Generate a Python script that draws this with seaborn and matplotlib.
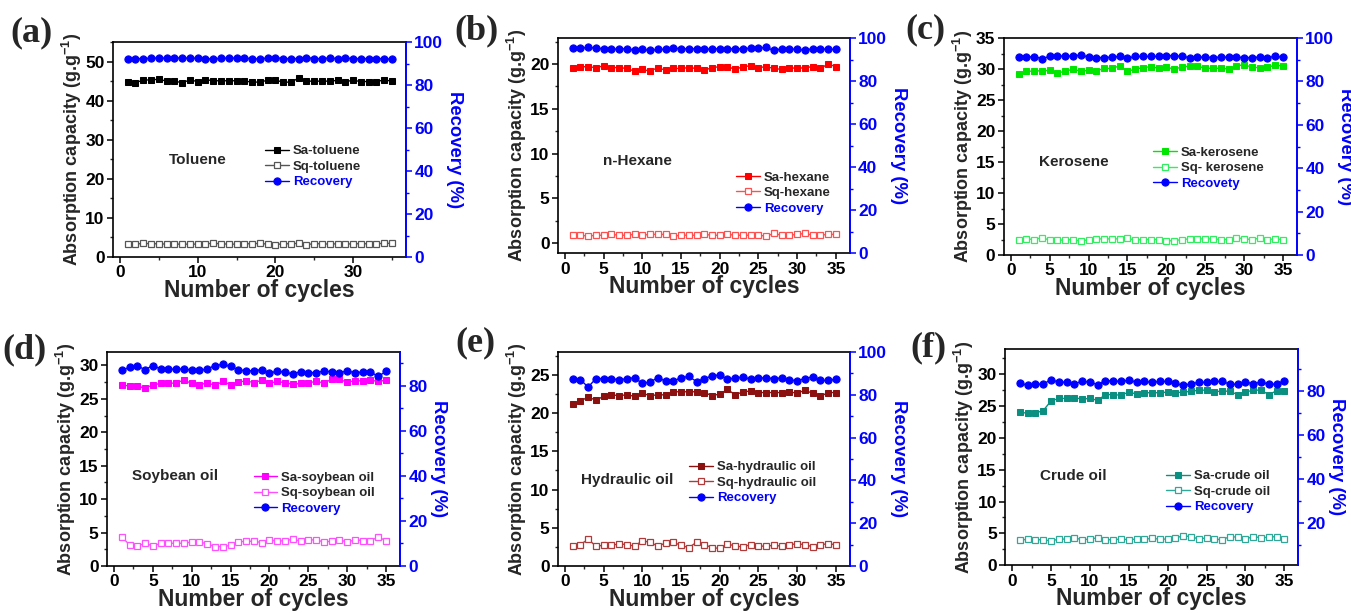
import numpy as np
import matplotlib
matplotlib.use("Agg")
import matplotlib.pyplot as plt
import seaborn as sns
from matplotlib.ticker import MultipleLocator

sns.set_theme(style="ticks")
plt.rcParams['font.family'] = ['Liberation Sans', 'DejaVu Sans']
plt.rcParams['font.weight'] = 'bold'
plt.rcParams['axes.labelweight'] = 'bold'
plt.rcParams['mathtext.default'] = 'regular'

# ------------------------------------------------------------
# DATA
# ------------------------------------------------------------
cycles = list(range(1, 36))

sa_toluene = [44.8, 44.6, 45.3, 45.3, 45.5, 45.0, 45.0, 44.6, 45.3, 44.9, 45.4, 45.1, 45.1, 45.1, 45.1, 45.1, 44.7, 44.8,
              45.2, 45.2, 44.8, 44.7, 45.8, 45.0, 45.0, 45.0, 45.0, 45.2, 44.9, 45.2, 44.9, 44.9, 44.9, 45.3, 45.0]
sq_toluene = [3.3, 3.3, 3.5, 3.4, 3.4, 3.3, 3.3, 3.3, 3.3, 3.3, 3.4, 3.5, 3.4, 3.3, 3.3, 3.4, 3.4, 3.5,
              3.3, 3.2, 3.4, 3.4, 3.5, 3.2, 3.4, 3.4, 3.3, 3.4, 3.3, 3.4, 3.4, 3.4, 3.4, 3.5, 3.5]
rec_toluene = [92.3, 92.3, 92.3, 92.5, 92.6, 92.5, 92.6, 92.6, 92.5, 92.5, 92.3, 92.1, 92.5, 92.5, 92.6, 92.5, 92.3, 92.1,
               92.6, 92.8, 92.3, 92.3, 92.3, 92.8, 92.3, 92.3, 92.6, 92.3, 92.6, 92.3, 92.3, 92.3, 92.3, 92.3, 92.0]

sa_hexane = [19.5, 19.7, 19.7, 19.6, 19.8, 19.6, 19.6, 19.5, 19.2, 19.4, 19.2, 19.6, 19.3, 19.5, 19.5, 19.6, 19.5, 19.3,
             19.6, 19.7, 19.7, 19.4, 19.7, 19.8, 19.6, 19.7, 19.5, 19.4, 19.6, 19.5, 19.6, 19.7, 19.5, 20.0, 19.7]
sq_hexane = [0.9, 0.9, 0.8, 0.9, 0.9, 1.0, 0.9, 0.9, 1.0, 0.9, 1.0, 1.0, 1.0, 0.8, 0.9, 0.9, 0.9, 1.0,
             0.9, 0.9, 1.0, 0.9, 0.9, 0.9, 0.9, 0.8, 1.1, 0.9, 0.9, 1.0, 1.1, 0.9, 0.9, 1.0, 1.0]
rec_hexane = [95.3, 95.3, 95.6, 95.3, 95.0, 94.7, 95.0, 95.0, 94.4, 94.7, 94.2, 94.7, 94.7, 95.3, 95.0, 95.0, 95.0, 94.7,
              95.0, 95.0, 95.0, 95.0, 95.0, 95.3, 95.3, 95.6, 94.2, 95.0, 95.0, 94.7, 94.4, 95.0, 95.0, 94.7, 94.7]

sa_kerosene = [29.2, 29.6, 29.7, 29.7, 29.8, 29.4, 29.6, 30.0, 29.6, 29.8, 29.7, 30.1, 30.1, 30.5, 29.6, 30.0, 30.2, 30.4,
               30.1, 30.3, 30.0, 30.3, 30.5, 30.5, 30.1, 30.1, 30.1, 30.0, 30.5, 30.7, 30.3, 30.2, 30.3, 30.6, 30.5]
sq_kerosene = [2.5, 2.6, 2.5, 2.8, 2.4, 2.4, 2.4, 2.5, 2.2, 2.5, 2.6, 2.6, 2.6, 2.6, 2.7, 2.4, 2.5, 2.5,
               2.5, 2.3, 2.3, 2.5, 2.6, 2.6, 2.6, 2.6, 2.5, 2.5, 2.8, 2.6, 2.5, 2.7, 2.5, 2.6, 2.5]
rec_kerosene = [91.2, 91.2, 91.4, 90.5, 91.5, 91.7, 91.7, 91.7, 92.2, 91.2, 91.0, 91.0, 91.2, 91.5, 90.7, 91.5, 91.5, 91.5,
                91.5, 91.9, 91.9, 91.5, 91.0, 91.2, 91.2, 91.0, 91.2, 91.2, 91.2, 91.0, 91.0, 91.2, 91.0, 91.5, 91.2]

sa_soybean = [27.1, 26.9, 26.9, 26.6, 27.1, 27.3, 27.3, 27.4, 27.8, 27.3, 27.1, 27.4, 27.0, 27.6, 27.1, 27.5, 27.7, 27.4,
              27.8, 27.3, 27.6, 27.4, 27.2, 27.3, 27.4, 27.6, 27.4, 27.9, 27.9, 27.5, 27.7, 27.7, 27.8, 27.6, 27.8]
sq_soybean = [4.3, 3.2, 3.0, 3.4, 3.0, 3.4, 3.4, 3.4, 3.4, 3.6, 3.6, 3.3, 2.9, 2.9, 3.1, 3.6, 3.7, 3.7,
              3.5, 3.9, 3.7, 3.8, 4.0, 3.7, 3.9, 3.9, 3.6, 3.7, 3.9, 3.6, 3.9, 3.8, 3.8, 4.3, 3.8]
rec_soybean = [86.9, 88.2, 88.8, 87.2, 89.0, 87.5, 87.5, 87.3, 87.6, 86.9, 86.9, 87.5, 89.0, 89.5, 88.6, 87.1, 86.7, 86.7,
               87.2, 85.6, 86.5, 86.1, 85.2, 86.3, 85.9, 85.9, 86.5, 86.3, 85.9, 86.5, 85.9, 86.1, 86.1, 84.2, 86.4]

sa_hydraulic = [21.2, 21.6, 22.1, 21.7, 22.2, 22.4, 22.3, 22.4, 22.2, 22.6, 22.3, 22.4, 22.4, 22.8, 22.8, 22.8, 22.8, 22.7,
                22.3, 22.5, 23.1, 22.4, 22.8, 22.9, 22.7, 22.7, 22.7, 22.7, 22.8, 22.6, 23.0, 22.6, 22.2, 22.7, 22.7]
sq_hydraulic = [2.6, 2.8, 3.5, 2.6, 2.7, 2.7, 2.9, 2.8, 2.6, 3.3, 3.1, 2.6, 3.0, 3.1, 2.7, 2.4, 3.1, 2.8,
                2.4, 2.3, 2.9, 2.6, 2.5, 2.8, 2.6, 2.6, 2.7, 2.6, 2.8, 2.9, 2.8, 2.5, 2.8, 2.9, 2.8]
rec_hydraulic = [87.6, 87.1, 83.6, 87.6, 87.6, 87.6, 87.0, 87.6, 88.0, 85.3, 86.0, 88.0, 86.4, 86.4, 88.0, 88.6, 86.2, 87.5,
                 88.9, 89.3, 87.3, 87.9, 88.3, 87.3, 87.9, 87.9, 87.6, 87.9, 87.0, 86.6, 87.6, 88.4, 86.7, 86.7, 87.3]

sa_crude = [24.0, 23.9, 23.9, 24.3, 25.8, 26.2, 26.2, 26.3, 26.1, 26.2, 25.9, 26.8, 26.8, 26.7, 27.2, 26.9, 27.1, 27.1,
            27.1, 27.2, 27.1, 27.2, 27.3, 27.5, 27.5, 27.2, 27.4, 27.3, 26.8, 27.2, 27.5, 27.5, 26.8, 27.4, 27.4]
sq_crude = [3.9, 4.1, 4.0, 4.0, 3.8, 4.1, 4.1, 4.3, 4.0, 4.1, 4.3, 4.0, 4.0, 4.1, 4.0, 4.1, 4.1, 4.2,
            4.1, 4.1, 4.3, 4.6, 4.5, 4.1, 4.3, 4.1, 4.0, 4.5, 4.4, 4.1, 4.5, 4.3, 4.4, 4.5, 4.1]
rec_crude = [83.5, 82.4, 83.0, 83.0, 85.0, 83.9, 83.9, 83.2, 84.2, 83.9, 82.7, 84.5, 84.5, 84.2, 84.8, 83.9, 84.2, 83.8,
             84.2, 84.2, 83.3, 82.4, 83.2, 83.8, 83.8, 84.2, 84.2, 83.0, 82.9, 83.9, 83.2, 83.9, 83.0, 83.0, 84.5]

panel_tags = ['(a)', '(b)', '(c)', '(d)', '(e)', '(f)']
oil_names = ['Toluene', 'n-Hexane', 'Kerosene', 'Soybean oil', 'Hydraulic oil', 'Crude oil']
sa_labels = ['Sa-toluene', 'Sa-hexane', 'Sa-kerosene', 'Sa-soybean oil', 'Sa-hydraulic oil', 'Sa-crude oil']
sq_labels = ['Sq-toluene', 'Sq-hexane', 'Sq- kerosene', 'Sq-soybean oil', 'Sq-hydraulic oil', 'Sq-crude oil']
rec_labels = ['Recovery', 'Recovery', 'Recovety', 'Recovery', 'Recovery', 'Recovery']
sa_data = [sa_toluene, sa_hexane, sa_kerosene, sa_soybean, sa_hydraulic, sa_crude]
sq_data = [sq_toluene, sq_hexane, sq_kerosene, sq_soybean, sq_hydraulic, sq_crude]
rec_data = [rec_toluene, rec_hexane, rec_kerosene, rec_soybean, rec_hydraulic, rec_crude]

# ------------------------------------------------------------
# STYLE / LAYOUT per panel
# ------------------------------------------------------------
sa_colors = ['#000000', '#ff0000', '#00e600', '#ff00ff', '#8b1010', '#0a8f80']
sq_colors = ['#555555', '#ff5050', '#30ee60', '#ff50ff', '#b03a3a', '#30a898']
blue = '#0000ff'

axes_pos = [[0.0836, 0.5807, 0.2169, 0.3507], [0.413, 0.587, 0.216, 0.351], [0.743, 0.584, 0.217, 0.354],
            [0.0792, 0.0767, 0.2169, 0.349], [0.413, 0.0767, 0.216, 0.349], [0.744, 0.078, 0.217, 0.353]]
left_lim = [(0, 55), (-1.1, 22.9), (0, 35), (0, 32), (0, 28), (0, 34)]
left_step = [10, 5, 5, 5, 5, 5]
right_lim = [(0, 100), (0, 100), (0, 100), (0, 95), (0, 100), (1, 99)]
x_step = [10, 5, 5, 5, 5, 5]
legend_xy = [(0.52, 0.42), (0.61, 0.28), (0.51, 0.40), (0.50, 0.34), (0.45, 0.39), (0.55, 0.34)]
name_xy = [(0.19, 0.45), (0.155, 0.43), (0.12, 0.43), (0.085, 0.42), (0.08, 0.40), (0.12, 0.41)]
tag_xy = [(32, 33), (477, 31), (925, 30), (25, 350), (475, 343), (928, 348)]

W, H = 1351, 613
fig = plt.figure(figsize=(W / 100, H / 100), dpi=100)

for i in range(6):
    ax = fig.add_axes(axes_pos[i])
    ax2 = ax.twinx()

    sns.lineplot(x=cycles, y=sa_data[i], ax=ax, color=sa_colors[i], marker='s', markersize=4.8,
                 markeredgecolor=sa_colors[i], lw=1, label=sa_labels[i])
    sns.lineplot(x=cycles, y=sq_data[i], ax=ax, color=sq_colors[i], marker='s', markersize=4.8,
                 markerfacecolor='white', markeredgecolor=sq_colors[i], markeredgewidth=0.9,
                 lw=1, label=sq_labels[i])
    sns.lineplot(x=cycles, y=rec_data[i], ax=ax2, color=blue, marker='o', markersize=5.2,
                 markeredgecolor=blue, lw=1, label=rec_labels[i])

    ax.set_xlim(-0.9, 36.8)
    ax.set_ylim(*left_lim[i])
    ax2.set_ylim(*right_lim[i])
    ax.xaxis.set_major_locator(MultipleLocator(x_step[i]))
    ax.xaxis.set_minor_locator(MultipleLocator(x_step[i] / 2))
    ax.yaxis.set_major_locator(MultipleLocator(left_step[i]))
    ax.yaxis.set_minor_locator(MultipleLocator(left_step[i] / 2))
    ax2.yaxis.set_major_locator(MultipleLocator(20))
    ax2.yaxis.set_minor_locator(MultipleLocator(10))
    if i == 3:
        ax2.set_yticks([0, 20, 40, 60, 80])
    if i == 5:
        ax2.set_yticks([20, 40, 60, 80])

    ax.tick_params(axis='both', which='major', direction='out', length=4, width=1.1,
                   labelsize=12.5, colors='black', pad=2)
    ax.tick_params(axis='both', which='minor', direction='out', length=2.5, width=1)
    ax2.tick_params(axis='y', which='major', direction='out', length=4, width=1.1,
                    labelsize=12.5, colors=blue, pad=2)
    ax2.tick_params(axis='y', which='minor', direction='out', length=2.5, width=1, colors=blue)
    for lab in ax.get_xticklabels() + ax.get_yticklabels() + ax2.get_yticklabels():
        lab.set_fontweight('bold')

    for sp in ['left', 'top', 'bottom']:
        ax.spines[sp].set_linewidth(1.2)
        ax.spines[sp].set_color('black')
        ax2.spines[sp].set_visible(False)
    ax.spines['right'].set_visible(False)
    ax2.spines['right'].set_color(blue)
    ax2.spines['right'].set_linewidth(1.4)

    ax.set_xlabel('Number of cycles', fontsize=16.5, fontweight='bold', labelpad=-1)
    ax.set_ylabel('Absorption capacity (g.g$^{-1}$)', fontsize=13, fontweight='bold', labelpad=1)
    ax2.set_ylabel('Recovery (%)', fontsize=13.3, fontweight='bold', color=blue, rotation=270, labelpad=14)

    ax.text(name_xy[i][0], name_xy[i][1], oil_names[i], transform=ax.transAxes,
            fontsize=11, fontweight='bold', ha='left', va='center')

    h1, l1 = ax.get_legend_handles_labels()
    h2, l2 = ax2.get_legend_handles_labels()
    if ax.get_legend() is not None:
        ax.get_legend().remove()
    if ax2.get_legend() is not None:
        ax2.get_legend().remove()
    leg = ax2.legend(h1 + h2, l1 + l2, loc='center left', bbox_to_anchor=legend_xy[i],
                     frameon=False, fontsize=9.5, handlelength=1.8, handletextpad=0.3,
                     labelspacing=0.25, borderpad=0, borderaxespad=0)
    for txt in leg.get_texts():
        txt.set_fontweight('bold')
    leg.get_texts()[2].set_color(blue)

    fig.text(tag_xy[i][0] / W, 1 - tag_xy[i][1] / H, panel_tags[i], fontsize=26, fontweight='bold',
             family='Liberation Serif', ha='center', va='center')

plt.savefig("out.png", dpi=100)
